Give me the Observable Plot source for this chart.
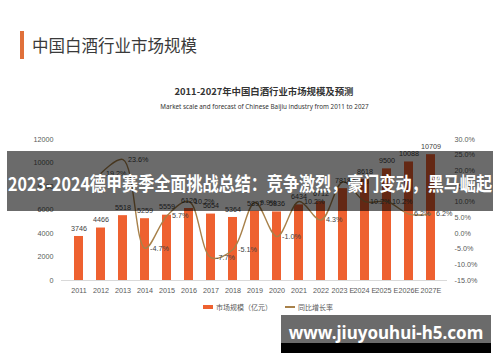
<!DOCTYPE html>
<html><head><meta charset="utf-8">
<script src="https://cdn.jsdelivr.net/npm/d3@7"></script>
<script src="https://cdn.jsdelivr.net/npm/@observablehq/plot@0.6"></script>
<style>
body{margin:0;background:#fff;}
#wrap{position:relative;width:500px;height:362px;overflow:hidden;background:#fff;font-family:"Noto Sans CJK SC","Noto Sans",sans-serif;}
#chart{position:absolute;left:0;top:0;}
.abs{position:absolute;white-space:nowrap;}
#accent{left:20px;top:31px;width:4px;height:28px;background:#e0703a;}
#heading{left:32px;top:33px;font-size:16.5px;line-height:24px;color:#3a3a3a;}
#title{left:0;width:528px;top:84px;text-align:center;font-size:9.4px;font-weight:700;color:#333;line-height:14px;}
#subtitle{left:0;width:529px;top:102px;text-align:center;font-size:6.3px;color:#333;line-height:10px;font-family:"Noto Sans",sans-serif;}
#legend{left:203px;top:301px;font-size:7px;color:#595959;line-height:12px;display:flex;align-items:center;}
.sw-bar{display:inline-block;width:10px;height:4px;background:#ee6130;margin-right:3px;}
.sw-line{display:inline-block;width:10px;height:1.4px;background:#a8814a;margin-right:3px;margin-left:13px;}
#banner{left:7px;top:151px;width:486px;height:60px;background:rgba(0,0,0,0.58);}
#banner svg{display:block;}
#wm{left:281px;top:315px;width:210px;height:28px;background:rgba(0,0,0,0.58);}
#wmblack{left:281px;top:343px;width:210px;height:10px;background:#000;}
#wmtext{left:281px;width:210px;top:322px;text-align:center;color:#fff;font-weight:700;font-size:17px;line-height:22px;font-family:"Noto Sans",sans-serif;}
</style></head><body><div id="wrap">
<div id="chart"></div>
<div class="abs" id="accent"></div>
<div class="abs" id="heading">中国白酒行业市场规模</div>
<div class="abs" id="title">2011-2027年中国白酒行业市场规模及预测</div>
<div class="abs" id="subtitle">Market scale and forecast of Chinese Baijiu industry from 2011 to 2027</div>
<div class="abs" id="legend"><span class="sw-bar"></span>市场规模（亿元）<span class="sw-line"></span>同比增长率</div>
<div class="abs" id="banner"><svg width="486" height="60"><text x="243" y="40" text-anchor="middle" fill="#fff" font-weight="700" font-size="19" textLength="484" lengthAdjust="spacingAndGlyphs" font-family="Noto Sans CJK SC, sans-serif">2023-2024德甲赛季全面挑战总结：竞争激烈，豪门变动，黑马崛起</text></svg></div>
<div class="abs" id="wm"></div>
<div class="abs" id="wmblack"></div>
<div class="abs" id="wmtext">www.jiuyouhui-h5.com</div>
</div>
<script>
const years = ["2011","2012","2013","2014","2015","2016","2017","2018","2019","2020","2021","2022","2023 E","2024 E","2025 E","2026E","2027E"];
const marketSize = [3746,4466,5518,5259,5559,6126,5654,5364,5897,5836,6434,6712,7818,8618,9500,10088,10709];
const growth = [null,19.2,23.6,-4.7,5.7,10.2,-7.7,-5.1,9.9,-1.0,10.2,4.3,16.5,10.2,10.2,6.2,6.2];
const leftTicks = [0,2000,4000,6000,8000,10000,12000];
const rightTicks = [-15,-10,-5,0,5,10,15,20,25,30];

const leftMax = 12000, rMin = -15, rMax = 30;
const toLeft = g => (g - rMin) / (rMax - rMin) * leftMax;
const toRight = v => v / leftMax * (rMax - rMin) + rMin;
const fmtPct = v => (Math.round(v * 10) / 10 + 0).toFixed(1) + "%";

const rows = years.map((y, i) => ({year: y, size: marketSize[i], growth: growth[i]}));
const lineRows = rows.filter(d => d.growth != null);

const chart = Plot.plot({
  width: 500, height: 362,
  marginTop: 139, marginBottom: 82, marginLeft: 61, marginRight: 53,
  style: {fontFamily: "'Liberation Sans', Arial, sans-serif", fontSize: "7.2px", color: "#595959", background: "transparent"},
  x: {type: "band", domain: years, paddingInner: 0.6, paddingOuter: 0.3, align: 0.5},
  y: {domain: [0, leftMax]},
  marks: [
    Plot.ruleY([0], {stroke: "#d9d9d9"}),
    Plot.barY(rows, {x: "year", y: "size", fill: "#ee6130"}),
    Plot.line(lineRows, {x: "year", y: d => toLeft(d.growth), stroke: "#a8814a", strokeWidth: 1.4, curve: "catmull-rom"}),
    Plot.text(rows, {x: "year", y: "size", text: d => String(d.size), dy: -8, fill: "#404040"}),
    Plot.text(lineRows, {x: "year", y: d => toLeft(d.growth), text: d => d.growth.toFixed(1) + "%", textAnchor: "start", dx: 5, fill: "#404040"}),
    Plot.axisX({tickSize: 0, tickPadding: 7, label: null}),
    Plot.axisY(leftTicks, {anchor: "left", tickSize: 0, tickPadding: 8, label: null, tickFormat: d => String(d)}),
    Plot.axisY(rightTicks.map(toLeft), {anchor: "right", tickSize: 0, tickPadding: 7, label: null, tickFormat: v => fmtPct(toRight(v))})
  ]
});
document.getElementById("chart").appendChild(chart);
</script>
</body></html>
